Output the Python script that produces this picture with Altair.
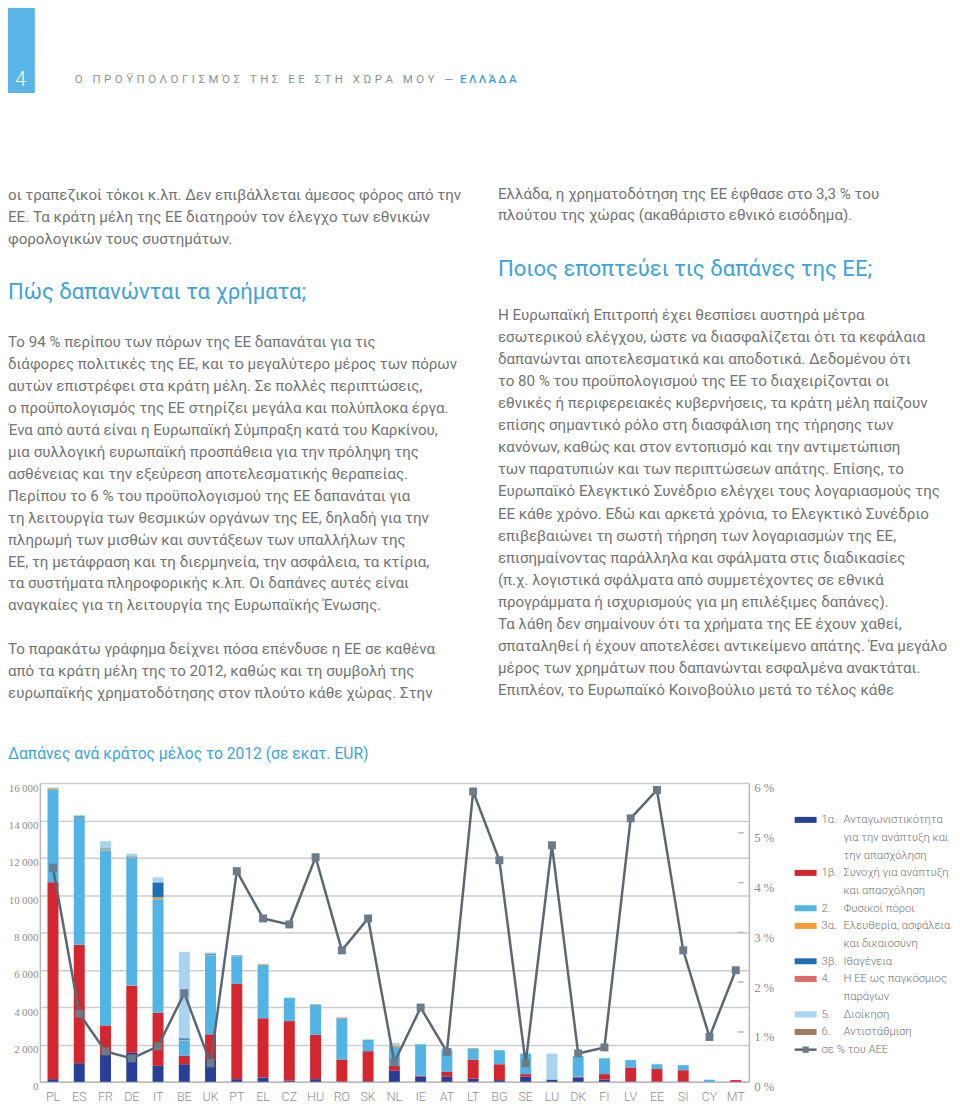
import altair as alt
import pandas as pd

# ---------------- data ----------------
countries = ["PL", "ES", "FR", "DE", "IT", "BE", "UK", "PT", "EL", "CZ", "HU", "RO", "SK", "NL",
             "IE", "AT", "LT", "BG", "SE", "LU", "DK", "FI", "LV", "EE", "SI", "CY", "MT"]

cats = ["1α", "1β", "2", "3α", "3β", "4", "5", "6"]
cat_colors = ["#273f99", "#d3262e", "#52b3e5", "#f39c33", "#1f6fb6", "#e06a6a", "#a8d4f1", "#9e7b5c"]

h1a = [140, 995, 1440, 1550, 850, 940, 1210, 140, 230, 60, 140, 20, 30, 590,
       270, 270, 160, 90, 270, 120, 230, 120, 20, 20, 20, 10, 0]
h1b = [10550, 6350, 1580, 3600, 2850, 450, 1330, 5100, 3170, 3190, 2370, 1170, 1610, 260,
       50, 260, 1030, 850, 140, 0, 40, 290, 740, 660, 600, 0, 90]
h2 = [4980, 6830, 9370, 6850, 6080, 830, 4230, 1480, 2860, 1250, 1630, 2200, 620, 1010,
      1690, 1210, 600, 750, 1100, 0, 1100, 850, 400, 260, 270, 100, 0]
h3a = [60, 30, 60, 30, 100, 30, 30, 20, 40, 0, 20, 0, 0, 90,
       0, 0, 20, 0, 0, 0, 0, 0, 0, 0, 0, 0, 0]
h3b = [0, 30, 50, 40, 800, 80, 40, 30, 0, 0, 0, 0, 0, 0,
       0, 0, 0, 0, 0, 0, 0, 0, 0, 0, 0, 0, 0]
h4 = [0, 0, 0, 0, 0, 0, 0, 0, 0, 0, 0, 50, 0, 0,
      0, 0, 0, 0, 0, 0, 0, 0, 0, 0, 0, 0, 0]
h5 = [30, 50, 390, 150, 270, 4640, 90, 20, 20, 0, 0, 0, 0, 130,
      20, 60, 0, 0, 0, 1390, 0, 0, 0, 0, 0, 0, 0]
h6 = [0] * 27

gni_pct = [4.30, 1.37, 0.61, 0.47, 0.71, 1.78, 0.37, 4.23, 3.28, 3.16, 4.51, 2.64, 3.28, 0.39,
           1.49, 0.60, 5.83, 4.45, 0.37, 4.75, 0.57, 0.69, 5.29, 5.86, 2.64, 0.90, 2.24]

left_y_ticks = [0, 2000, 4000, 6000, 8000, 10000, 12000, 14000, 16000]
right_y_ticks = [0, 1, 2, 3, 4, 5, 6]

legend_nums = ["1α.", "1β.", "2.", "3α.", "3β.", "4.", "5.", "6."]
legend_labels = [
    ["Ανταγωνιστικότητα", "για την ανάπτυξη και", "την απασχόληση"],
    ["Συνοχή για ανάπτυξη", "και απασχόληση"],
    ["Φυσικοί πόροι"],
    ["Ελευθερία, ασφάλεια", "και δικαιοσύνη"],
    ["Ιθαγένεια"],
    ["Η ΕΕ ως παγκόσμιος", "παράγων"],
    ["Διοίκηση"],
    ["Αντιστάθμιση"],
]
line_legend = "σε % του ΑΕΕ"

chart_title = "Δαπάνες ανά κράτος μέλος το 2012 (σε εκατ. EUR)"
page_no = "4"
header_text = "Ο ΠΡΟΫΠΟΛΟΓΙΣΜΌΣ ΤΗΣ ΕΕ ΣΤΗ ΧΏΡΑ ΜΟΥ — "
header_country = "ΕΛΛΆΔΑ"

left_p1 = [
    "οι τραπεζικοί τόκοι κ.λπ. Δεν επιβάλλεται άμεσος φόρος από την",
    "ΕΕ. Τα κράτη μέλη της ΕΕ διατηρούν τον έλεγχο των εθνικών",
    "φορολογικών τους συστημάτων.",
]
left_heading = "Πώς δαπανώνται τα χρήματα;"
left_p2 = [
    "Το 94 % περίπου των πόρων της ΕΕ δαπανάται για τις",
    "διάφορες πολιτικές της ΕΕ, και το μεγαλύτερο μέρος των πόρων",
    "αυτών επιστρέφει στα κράτη μέλη. Σε πολλές περιπτώσεις,",
    "ο προϋπολογισμός της ΕΕ στηρίζει μεγάλα και πολύπλοκα έργα.",
    "Ένα από αυτά είναι η Ευρωπαϊκή Σύμπραξη κατά του Καρκίνου,",
    "μια συλλογική ευρωπαϊκή προσπάθεια για την πρόληψη της",
    "ασθένειας και την εξεύρεση αποτελεσματικής θεραπείας.",
    "Περίπου το 6 % του προϋπολογισμού της ΕΕ δαπανάται για",
    "τη λειτουργία των θεσμικών οργάνων της ΕΕ, δηλαδή για την",
    "πληρωμή των μισθών και συντάξεων των υπαλλήλων της",
    "ΕΕ, τη μετάφραση και τη διερμηνεία, την ασφάλεια, τα κτίρια,",
    "τα συστήματα πληροφορικής κ.λπ. Οι δαπάνες αυτές είναι",
    "αναγκαίες για τη λειτουργία της Ευρωπαϊκής Ένωσης.",
]
left_p3 = [
    "Το παρακάτω γράφημα δείχνει πόσα επένδυσε η ΕΕ σε καθένα",
    "από τα κράτη μέλη της το 2012, καθώς και τη συμβολή της",
    "ευρωπαϊκής χρηματοδότησης στον πλούτο κάθε χώρας. Στην",
]
right_p1 = [
    "Ελλάδα, η χρηματοδότηση της ΕΕ έφθασε στο 3,3 % του",
    "πλούτου της χώρας (ακαθάριστο εθνικό εισόδημα).",
]
right_heading = "Ποιος εποπτεύει τις δαπάνες της ΕΕ;"
right_p2 = [
    "Η Ευρωπαϊκή Επιτροπή έχει θεσπίσει αυστηρά μέτρα",
    "εσωτερικού ελέγχου, ώστε να διασφαλίζεται ότι τα κεφάλαια",
    "δαπανώνται αποτελεσματικά και αποδοτικά. Δεδομένου ότι",
    "το 80 % του προϋπολογισμού της ΕΕ το διαχειρίζονται οι",
    "εθνικές ή περιφερειακές κυβερνήσεις, τα κράτη μέλη παίζουν",
    "επίσης σημαντικό ρόλο στη διασφάλιση της τήρησης των",
    "κανόνων, καθώς και στον εντοπισμό και την αντιμετώπιση",
    "των παρατυπιών και των περιπτώσεων απάτης. Επίσης, το",
    "Ευρωπαϊκό Ελεγκτικό Συνέδριο ελέγχει τους λογαριασμούς της",
    "ΕΕ κάθε χρόνο. Εδώ και αρκετά χρόνια, το Ελεγκτικό Συνέδριο",
    "επιβεβαιώνει τη σωστή τήρηση των λογαριασμών της ΕΕ,",
    "επισημαίνοντας παράλληλα και σφάλματα στις διαδικασίες",
    "(π.χ. λογιστικά σφάλματα από συμμετέχοντες σε εθνικά",
    "προγράμματα ή ισχυρισμούς για μη επιλέξιμες δαπάνες).",
    "Τα λάθη δεν σημαίνουν ότι τα χρήματα της ΕΕ έχουν χαθεί,",
    "σπαταληθεί ή έχουν αποτελέσει αντικείμενο απάτης. Ένα μεγάλο",
    "μέρος των χρημάτων που δαπανώνται εσφαλμένα ανακτάται.",
    "Επιπλέον, το Ευρωπαϊκό Κοινοβούλιο μετά το τέλος κάθε",
]

# ---------------- layout helpers ----------------
X0, Y0 = 40, 784          # page position of the plot area origin
W, H = 712, 300
FONT = "Roboto"
BODY_W = 400
BODY_FS = 15.2
TEXT_GREY = "#727375"
BLUE_HEAD = "#3ea3d8"
AXIS_GREY = "#8d8d8d"
LINE_GREY = "#b9b9b9"
NARROW = "Liberation Sans Narrow"


def cx(px):
    return px - X0


def cy(py):
    return py - Y0


def text_block(lines, px, py_center, size, color, lh=22, font=FONT, weight=BODY_W):
    base = py_center + 0.3 * size
    df = pd.DataFrame({"t": ["\n".join(lines)]})
    return alt.Chart(df).mark_text(
        align="left", baseline="alphabetic", lineBreak="\n", lineHeight=lh,
        font=font, fontSize=size, color=color, fontWeight=weight
    ).encode(text="t:N", x=alt.value(cx(px)), y=alt.value(cy(base)))


def spaced(s):
    return "\u2009\u200a".join(s)


# ---------------- main chart ----------------
series = [h1a, h1b, h2, h3a, h3b, h4, h5, h6]
rows = []
for ci, (cat, vals) in enumerate(zip(cats, series)):
    for c, v in zip(countries, vals):
        rows.append({"country": c, "cat": cat, "value": v, "ord": ci})
bars_df = pd.DataFrame(rows)
line_df = pd.DataFrame({"country": countries, "gni": gni_pct})

x_enc = alt.X("country:N", sort=countries,
              scale=alt.Scale(paddingInner=0.5, paddingOuter=0.25),
              axis=alt.Axis(title=None, labelAngle=0, ticks=False, domain=True,
                            domainColor=LINE_GREY, domainWidth=1.5, labelPadding=9,
                            labelFont=FONT, labelFontWeight=300, labelFontSize=12.5,
                            labelColor=AXIS_GREY, grid=False))

bars = alt.Chart(bars_df).mark_bar(size=11).encode(
    x=x_enc,
    y=alt.Y("value:Q", stack="zero",
            scale=alt.Scale(domain=[0, 16000], nice=False),
            axis=alt.Axis(title=None, values=left_y_ticks,
                          labelExpr="replace(format(datum.value, ','), ',', '\u2009')",
                          grid=True, gridColor="#cdcdcd", gridWidth=1.5,
                          domain=True, domainColor=LINE_GREY, domainWidth=1.5,
                          ticks=False, labelPadding=2, labelOffset=5,
                          labelFont=NARROW, labelFontSize=11, labelColor=AXIS_GREY)),
    color=alt.Color("cat:N", scale=alt.Scale(domain=cats, range=cat_colors), legend=None),
    order=alt.Order("ord:Q", sort="ascending"),
)

y_right = alt.Y("gni:Q", scale=alt.Scale(domain=[0, 6], nice=False),
                axis=alt.Axis(title=None, orient="right", values=right_y_ticks,
                              labelExpr="datum.value + '\u2009%'", grid=False, ticks=False,
                              domain=True, domainColor=LINE_GREY, domainWidth=1.5,
                              labelPadding=5, labelOffset=5,
                              labelFont=NARROW, labelFontSize=13, labelColor=AXIS_GREY))

line = alt.Chart(line_df).mark_line(color="#5b6874", strokeWidth=2.5).encode(x=x_enc, y=y_right)
pts = alt.Chart(line_df).mark_square(size=64, color="#6b7b8a", opacity=1).encode(x=x_enc, y=y_right)

tick_df = pd.DataFrame({"gni": [1, 2, 3, 4, 5]})
rticks = alt.Chart(tick_df).mark_rule(color=LINE_GREY, strokeWidth=1.5).encode(
    x=alt.value(cx(741)), x2=alt.value(cx(747)), y=alt.Y("gni:Q"))

main = alt.layer(bars, alt.layer(line, pts, rticks)).resolve_scale(y="independent")

# ---------------- page texts ----------------
layers = []
one = pd.DataFrame({"a": [0]})
layers.append(alt.Chart(one).mark_rect(color="#5ab4e6").encode(
    x=alt.value(cx(6)), x2=alt.value(cx(35)), y=alt.value(cy(5)), y2=alt.value(cy(91))))
layers.append(text_block([page_no], 15, 78, 20, "#ffffff", weight=300))
layers.append(text_block([spaced(header_text)], 75, 78, 11.5, "#8f9092", weight=400))
layers.append(text_block(["\u2009".join(header_country)], 462, 78, 11.5, "#3e9fd2", weight=500))

layers.append(text_block(left_p1, 8, 194, BODY_FS, TEXT_GREY, lh=22))
layers.append(text_block([left_heading], 8, 291, 22.2, BLUE_HEAD))
layers.append(text_block(left_p2, 8, 342, BODY_FS, TEXT_GREY, lh=22))
layers.append(text_block(left_p3, 8, 650, BODY_FS, TEXT_GREY, lh=22))
layers.append(text_block(right_p1, 500, 193, BODY_FS, TEXT_GREY, lh=21.5))
layers.append(text_block([right_heading], 500, 268, 22.2, BLUE_HEAD))
layers.append(text_block(right_p2, 500, 314, BODY_FS, TEXT_GREY, lh=22.2))
layers.append(text_block([chart_title], 8, 755, 15.7, BLUE_HEAD))

# ---------------- legend ----------------
LEG_STEP = 17.75
LEG_FS = 11.3
row = 0
for num, lab, col in zip(legend_nums, legend_labels, cat_colors):
    yc = 821 + LEG_STEP * row
    layers.append(alt.Chart(one).mark_rect(color=col).encode(
        x=alt.value(cx(798)), x2=alt.value(cx(820)),
        y=alt.value(cy(yc - 3)), y2=alt.value(cy(yc + 3))))
    layers.append(text_block([num], 825, yc, LEG_FS, TEXT_GREY, lh=LEG_STEP, weight=300))
    layers.append(text_block(lab, 847, yc, LEG_FS, TEXT_GREY, lh=LEG_STEP, weight=300))
    row += len(lab)
yc = 821 + LEG_STEP * row
layers.append(alt.Chart(one).mark_rule(color="#5b6874", strokeWidth=2.5).encode(
    x=alt.value(cx(798)), x2=alt.value(cx(820)), y=alt.value(cy(yc))))
layers.append(alt.Chart(one).mark_square(size=40, color="#6b7b8a", opacity=1).encode(
    x=alt.value(cx(809)), y=alt.value(cy(yc))))
layers.append(text_block([line_legend], 825, yc, LEG_FS, TEXT_GREY, weight=300))

chart = alt.layer(main, *layers).properties(
    width=W, height=H,
    autosize=alt.AutoSizeParams(type="none"),
    padding={"left": X0 - 8, "top": Y0 - 8, "right": 204, "bottom": 20},
    background="white",
).configure_view(stroke=None)

chart.save("out.html", embed_options={"renderer": "svg", "actions": False})
